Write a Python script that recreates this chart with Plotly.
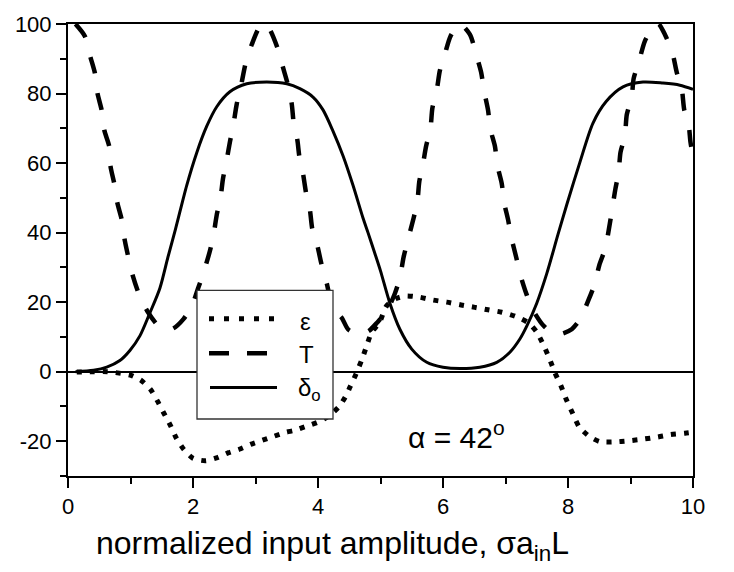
import plotly.graph_objects as go

# ---------------- data ----------------
eps_x = [0.14, 0.39, 0.63, 0.85, 1.0, 1.17, 1.32, 1.43, 1.53, 1.64, 1.73, 1.85, 2.0, 2.2,
         2.39, 2.57, 2.74, 2.92, 3.11, 3.29, 3.49, 3.62, 3.81, 4.0, 4.17, 4.34, 4.46, 4.51,
         4.6, 4.7, 4.78, 4.86, 4.98, 5.1, 5.26, 5.41, 5.63, 5.84, 6.06, 6.29, 6.51, 6.72,
         6.94, 7.16, 7.37, 7.5, 7.61, 7.7, 7.79, 7.89, 7.98, 8.08, 8.18, 8.34, 8.51, 8.74,
         8.96, 9.2, 9.43, 9.64, 9.87, 10.0]
eps_y = [-0.1, 0.0, 0.0, -0.5, -1.0, -2.5, -5.1, -8.4, -11.8, -15.5, -19.0, -22.3, -24.9, -25.6,
         -24.7, -23.3, -22.3, -20.9, -19.7, -18.6, -17.4, -16.9, -15.7, -14.5, -12.8, -10.0, -6.5, -4.5,
         -1.0, 3.4, 7.5, 11.4, 14.0, 19.0, 21.1, 21.8, 21.4, 20.6, 20.0, 19.2, 18.5, 17.8,
         17.1, 15.9, 14.0, 11.4, 7.6, 3.9, -0.3, -4.2, -8.3, -12.2, -15.9, -18.6, -20.1, -20.2,
         -19.9, -19.4, -18.8, -18.1, -17.7, -17.4]

T_x = [0.12, 0.27, 0.36, 0.43, 0.47, 0.54, 0.58, 0.66, 0.68, 0.74, 0.79, 0.86, 0.91, 1.04,
       1.15, 1.27, 1.44, 1.56, 1.68, 1.85, 1.98, 2.08, 2.17, 2.27, 2.33, 2.38, 2.44, 2.48,
       2.54, 2.59, 2.65, 2.7, 2.78, 2.85, 2.94, 3.07, 3.15, 3.23, 3.36, 3.44, 3.52, 3.58,
       3.61, 3.67, 3.7, 3.76, 3.81, 3.87, 3.91, 3.99, 4.06, 4.14, 4.24, 4.38, 4.48, 4.6,
       4.7, 4.82, 4.94, 5.1, 5.23, 5.31, 5.37, 5.44, 5.53, 5.59, 5.62, 5.68, 5.73, 5.8,
       5.83, 5.9, 5.95, 6.03, 6.12, 6.27, 6.43, 6.53, 6.61, 6.66, 6.72, 6.76, 6.83, 6.87,
       6.94, 6.98, 7.04, 7.1, 7.17, 7.24, 7.34, 7.45, 7.61, 7.79, 7.9, 8.06, 8.19, 8.33,
       8.43, 8.5, 8.6, 8.76, 8.81, 8.84, 8.91, 8.94, 9.02, 9.05, 9.14, 9.23, 9.39, 9.45,
       9.55, 9.67, 9.74, 9.82, 9.86, 9.93, 9.96, 10.0]
T_y = [100.0, 96.5, 90.4, 85.9, 80.2, 75.1, 69.5, 64.8, 59.1, 54.1, 48.5, 43.7, 37.6, 27.4,
       21.6, 17.4, 13.3, 12.3, 12.4, 15.2, 18.8, 23.9, 28.6, 34.7, 39.5, 45.1, 50.0, 55.5,
       61.0, 66.0, 71.5, 77.0, 83.3, 89.4, 94.1, 99.3, 100.0, 98.4, 92.7, 87.5, 82.4, 77.0,
       71.7, 66.6, 62.1, 57.0, 51.3, 46.6, 40.9, 36.2, 30.6, 25.4, 18.3, 15.5, 12.2, 11.0,
       10.8, 11.8, 14.0, 17.4, 22.5, 27.0, 33.0, 38.0, 44.2, 48.9, 54.6, 59.8, 64.9, 70.1,
       75.8, 81.0, 86.6, 91.3, 96.5, 100.0, 97.0, 91.3, 86.1, 80.5, 75.3, 69.6, 64.9, 59.3,
       54.1, 48.5, 43.8, 38.1, 33.0, 27.7, 22.1, 17.4, 13.2, 10.8, 10.9, 12.2, 15.0, 20.7,
       25.4, 30.6, 35.8, 52.7, 57.4, 63.1, 67.8, 73.9, 79.1, 84.3, 89.5, 95.1, 99.8, 100.0,
       97.0, 91.8, 86.1, 81.4, 75.3, 71.1, 66.0, 62.0]

d_x = [0.12, 0.41, 0.62, 0.83, 0.99, 1.15, 1.31, 1.47, 1.6, 1.72, 1.9, 2.06, 2.22, 2.38,
       2.59, 2.86, 3.18, 3.5, 3.71, 3.92, 4.08, 4.24, 4.4, 4.56, 4.72, 4.8, 4.91, 5.0,
       5.15, 5.31, 5.5, 5.74, 6.0, 6.27, 6.59, 6.86, 7.07, 7.23, 7.34, 7.5, 7.66, 7.84,
       7.98, 8.19, 8.4, 8.61, 8.88, 9.2, 9.52, 9.79, 10.0]
d_y = [0.0, 0.4, 1.3, 3.2, 6.1, 10.3, 16.9, 24.0, 33.0, 41.0, 53.6, 63.0, 70.6, 76.2,
       80.5, 82.8, 83.3, 82.8, 81.4, 79.0, 75.3, 69.2, 62.1, 53.6, 44.2, 40.0, 34.0, 29.0,
       19.7, 12.2, 6.5, 2.7, 1.3, 0.9, 1.3, 2.7, 5.6, 9.4, 13.1, 19.7, 28.2, 39.5,
       48.0, 60.2, 71.5, 77.7, 81.9, 83.3, 83.0, 82.4, 81.2]

x_ticks = [0, 2, 4, 6, 8, 10]
y_ticks = [-20, 0, 20, 40, 60, 80, 100]
y_tick_text = ["-20", "0", "20", "40", "60", "80", "100"]
legend_labels = ["\u03b5", "T", "\u03b4<sub>o</sub>"]

# ---------------- layout geometry ----------------
W, H = 734, 572
L, R, TOP, B = 68, 41, 16, 96
PW, PH = W - L - R, H - TOP - B
FONT = "Arial, Liberation Sans, Helvetica, sans-serif"


def px(xp):
    return (xp - L) / PW


def py(yp):
    return (H - B - yp) / PH


fig = go.Figure()
fig.add_trace(go.Scatter(x=eps_x, y=eps_y, mode="lines", name=legend_labels[0],
                         line=dict(color="black", width=5, dash="5px,8px", shape="spline", smoothing=0.7),
                         showlegend=False))
fig.add_trace(go.Scatter(x=T_x, y=T_y, mode="lines", name=legend_labels[1],
                         line=dict(color="black", width=4.5, dash="17px,20px", shape="spline", smoothing=0.7),
                         showlegend=False))
fig.add_trace(go.Scatter(x=d_x, y=d_y, mode="lines", name=legend_labels[2],
                         line=dict(color="black", width=3, shape="spline", smoothing=0.8),
                         showlegend=False))

axis_common = dict(showgrid=False, showline=True, linecolor="black", linewidth=2, mirror=True,
                   ticks="outside", ticklen=10, tickwidth=2, tickcolor="black",
                   tickfont=dict(family=FONT, size=22, color="black"))

fig.update_xaxes(range=[0, 10], tickvals=x_ticks, zeroline=False,
                 minor=dict(dtick=1, ticks="outside", ticklen=6, tickwidth=2, tickcolor="black"),
                 **axis_common)
fig.update_yaxes(range=[-30, 100], tickvals=y_ticks, ticktext=y_tick_text,
                 zeroline=True, zerolinecolor="black", zerolinewidth=1.5,
                 minor=dict(dtick=10, ticks="outside", ticklen=6, tickwidth=2, tickcolor="black"),
                 **axis_common)

# legend box (drawn manually to match the long sample lines)
shapes = [
    dict(type="rect", xref="paper", yref="paper", x0=px(197), x1=px(333), y0=py(418), y1=py(287),
         line=dict(color="#333", width=1.3), fillcolor="white", layer="above"),
    dict(type="line", xref="paper", yref="paper", x0=px(209), x1=px(274), y0=py(316), y1=py(316),
         line=dict(color="black", width=5, dash="5px,10px"), layer="above"),
    dict(type="line", xref="paper", yref="paper", x0=px(209), x1=px(268), y0=py(351), y1=py(351),
         line=dict(color="black", width=4.5, dash="20px,18px"), layer="above"),
    dict(type="line", xref="paper", yref="paper", x0=px(210), x1=px(277), y0=py(386), y1=py(386),
         line=dict(color="black", width=3), layer="above"),
]
fig.update_layout(shapes=shapes)

annotations = [
    dict(text=legend_labels[0], x=px(298), y=py(319), xanchor="left", yanchor="middle"),
    dict(text=legend_labels[1], x=px(297), y=py(352), xanchor="left", yanchor="middle"),
    dict(text=legend_labels[2], x=px(296), y=py(388), xanchor="left", yanchor="middle"),
]
for a in annotations:
    a.update(xref="paper", yref="paper", showarrow=False,
             font=dict(family=FONT, size=24, color="black"))

annotations.append(dict(text="\u03b1 = 42<sup>o</sup>", x=px(406), y=py(434), xref="paper", yref="paper",
                        xanchor="left", yanchor="middle", showarrow=False,
                        font=dict(family=FONT, size=30, color="black")))
annotations.append(dict(text="normalized input amplitude, \u03c3a<sub>in</sub>L", x=px(94), y=py(547),
                        xref="paper", yref="paper", xanchor="left", yanchor="middle", showarrow=False,
                        font=dict(family=FONT, size=32, color="black")))
fig.update_layout(annotations=annotations)

fig.update_layout(width=W, height=H, margin=dict(l=L, r=R, t=TOP, b=B),
                  paper_bgcolor="white", plot_bgcolor="white", showlegend=False)

fig.write_html("out.html")
